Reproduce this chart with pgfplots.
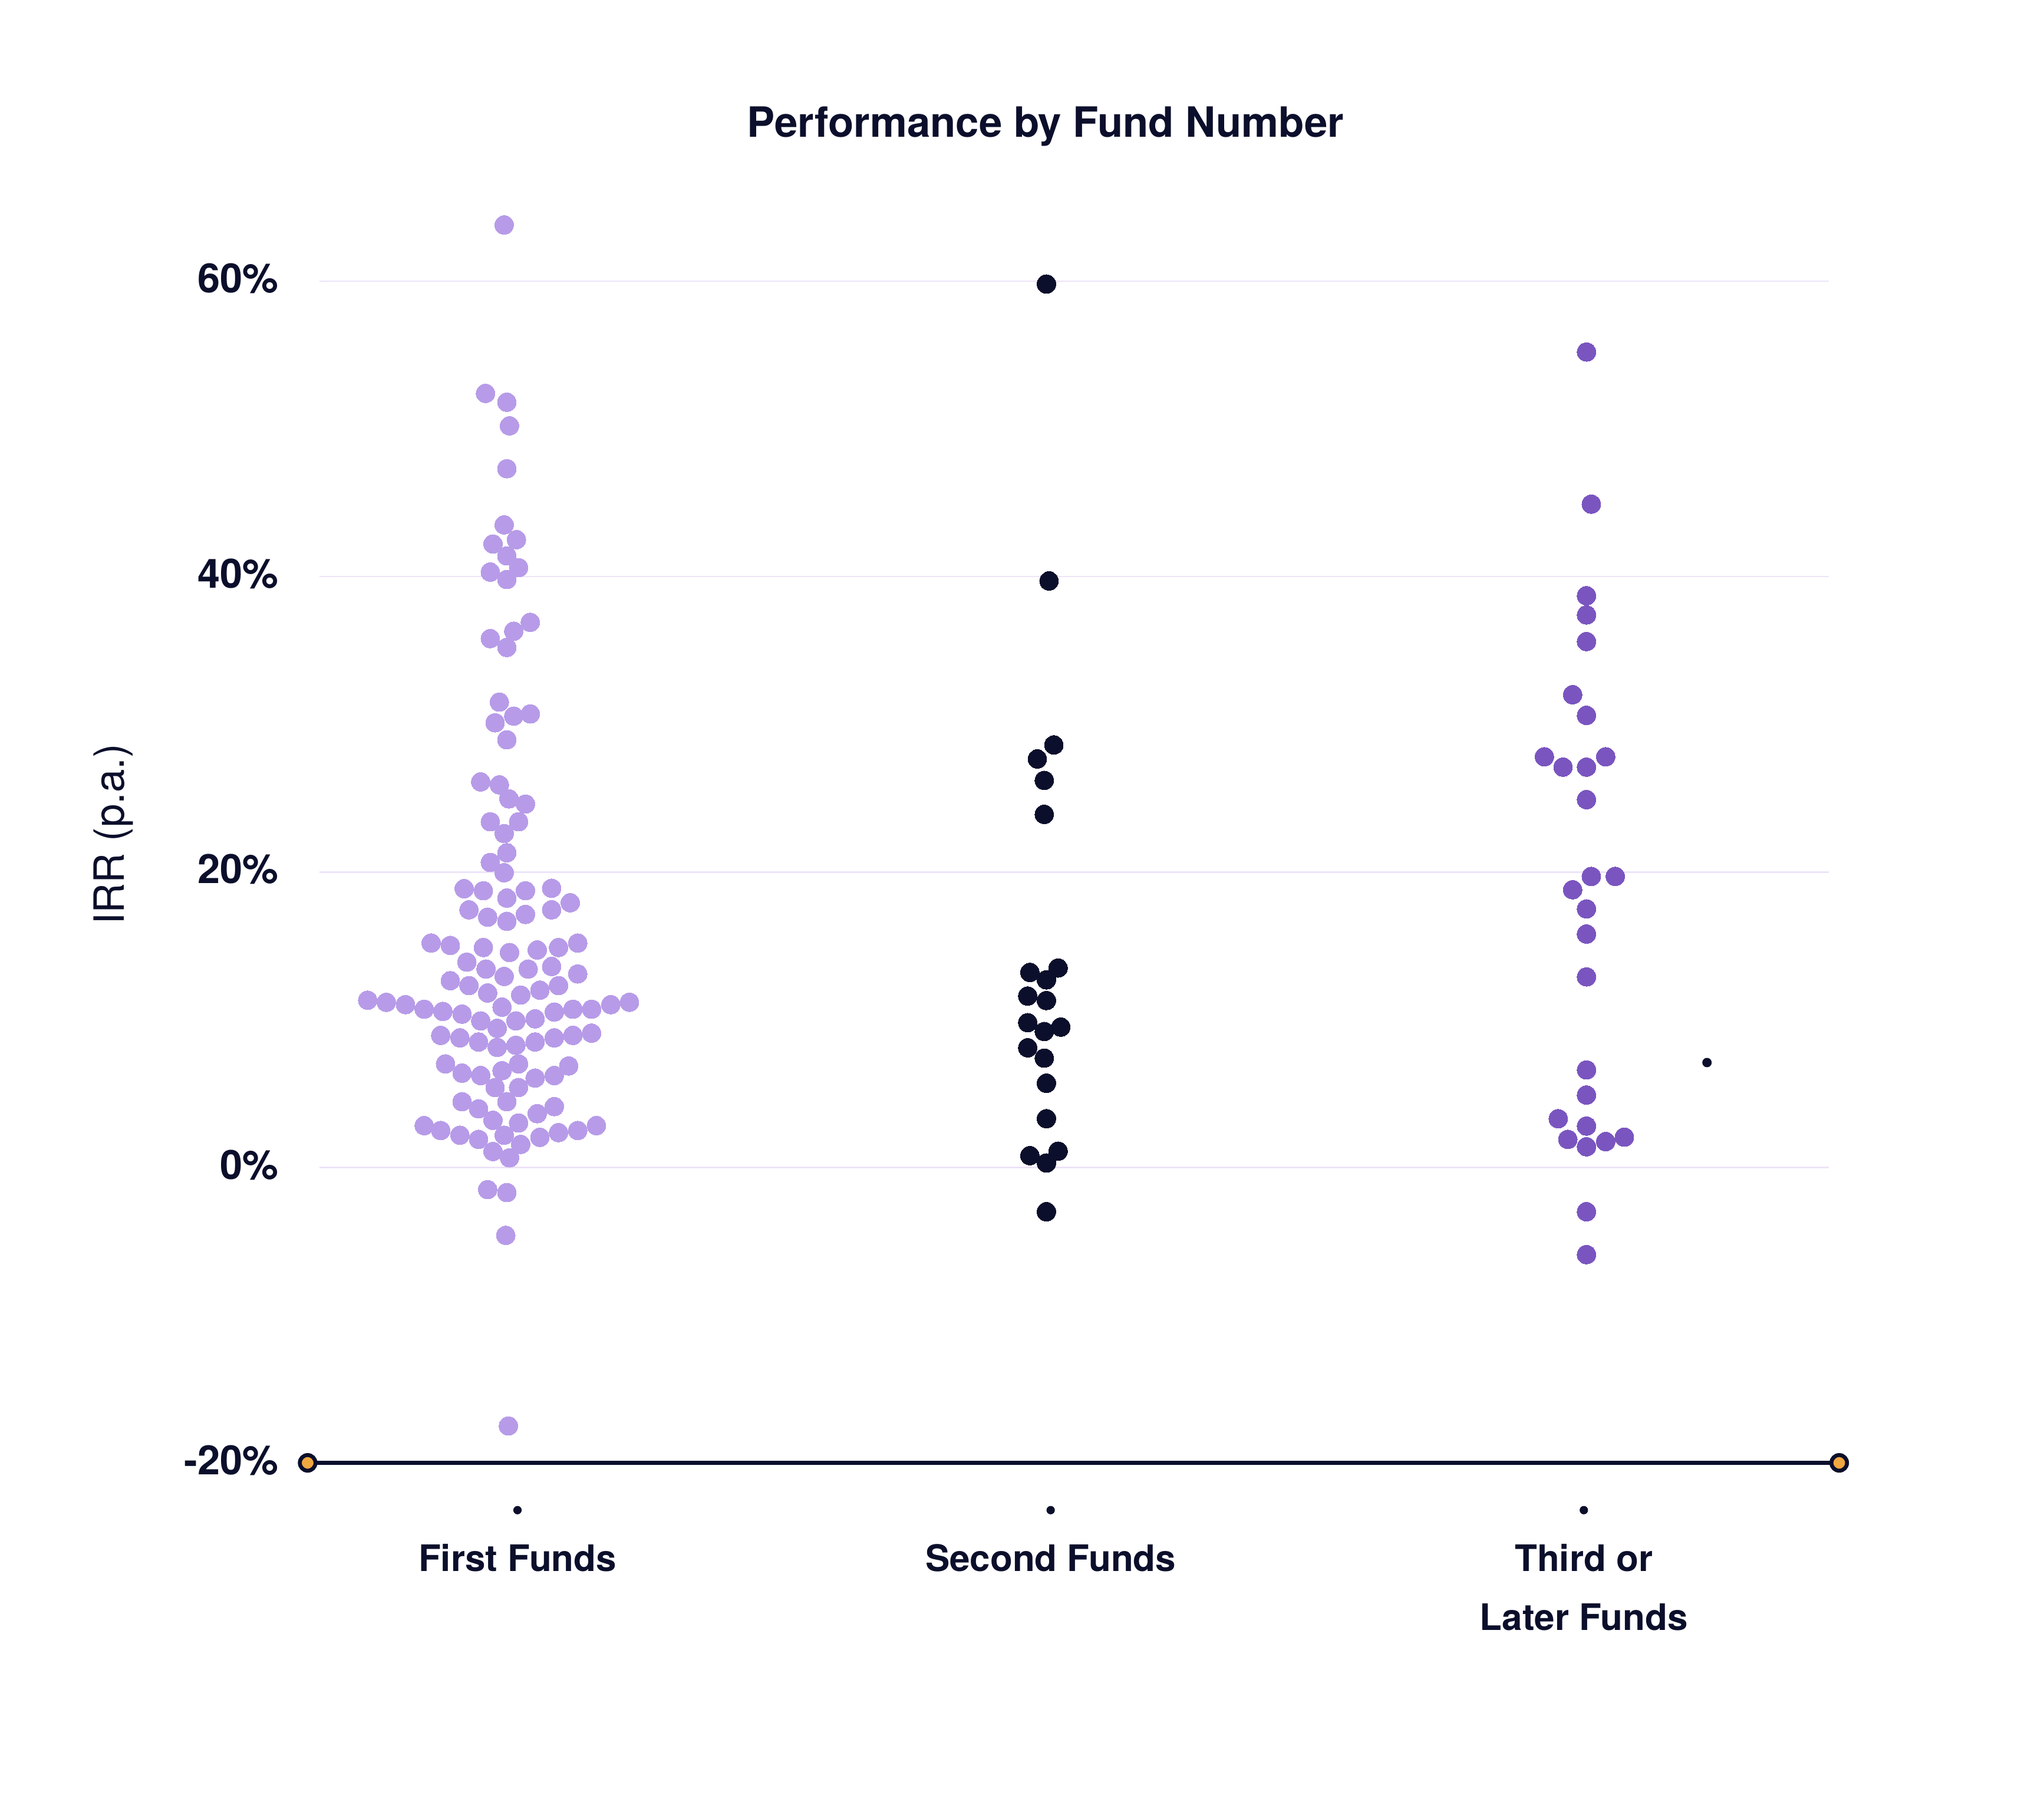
\documentclass[border=0pt]{standalone}
\usepackage{fontspec}
\setmainfont{TeX Gyre Heros}
\usepackage{pgfplots}
\pgfplotsset{compat=1.18}
\definecolor{navy}{HTML}{0B0F2B}
\definecolor{lav}{HTML}{B79BE8}
\definecolor{purp}{HTML}{7A55C0}
\definecolor{gridc}{HTML}{EEE4F8}
\definecolor{orng}{HTML}{F0A840}
\begin{document}
\begin{tikzpicture}
\path[use as bounding box] (-122.5pt,-136pt) rectangle (661.5pt,561pt);
\begin{axis}[
 at={(0,0)}, anchor=south west, scale only axis,
 width=579pt, height=487.19pt,
 xmin=-0.3716, xmax=2.4597, ymin=-20, ymax=66,
 axis line style={draw=none},
 clip=false,
 xtick={0,1,2}, xticklabels={First Funds, Second Funds, {Third or\\Later Funds}},
 xticklabel style={font=\fontsize{14}{22.5}\selectfont\bfseries, align=center, anchor=north, inner sep=0pt, yshift=-31pt, text=navy},
 ytick={-20,0,20,40,60}, yticklabels={-20\%,0\%,20\%,40\%,60\%},
 yticklabel style={font=\fontsize{15.5}{18}\selectfont\bfseries, anchor=east, inner sep=0pt, xshift=-15.5pt, yshift=1pt, text=navy},
 major tick length=0pt, tick style={draw=none},
 ymajorgrids, grid style={gridc, line width=0.6pt},
]
% First Funds
\addplot[only marks, mark=*, mark size=3.6pt, mark options={draw=lav, fill=lav, line width=0pt}] coordinates {
(-0.025,63.8) (-0.060,52.4) (-0.020,51.8) (-0.015,50.2) (-0.020,47.3) (-0.025,43.5)
(-0.046,42.2) (-0.002,42.5) (-0.020,41.4) (-0.051,40.3) (0.002,40.6) (-0.020,39.8)
(-0.051,35.8) (-0.007,36.3) (0.024,36.9) (-0.020,35.2)
(-0.034,31.5) (-0.007,30.55) (0.024,30.7) (-0.042,30.1) (-0.020,28.95)
(-0.069,26.1) (-0.034,25.9) (-0.016,24.95) (0.015,24.6) (-0.051,23.4) (0.002,23.4)
(-0.025,22.6) (-0.020,21.3) (-0.051,20.65) (-0.025,19.95)
(-0.100,18.87) (-0.064,18.73) (0.015,18.73) (0.064,18.90) (-0.020,18.23) (0.099,17.92)
(-0.091,17.44) (0.064,17.44) (-0.056,16.94) (0.015,17.13) (-0.020,16.66)
(-0.162,15.19) (-0.126,15.03) (-0.064,14.89) (-0.015,14.55) (0.037,14.72) (0.077,14.89) (0.113,15.19)
(-0.095,13.90) (-0.059,13.43) (-0.025,12.93) (0.020,13.43) (0.064,13.60) (0.113,13.10)
(-0.126,12.64) (-0.091,12.31) (-0.056,11.81) (0.006,11.67) (0.042,12.00) (0.077,12.31)
(-0.281,11.32) (-0.246,11.18) (-0.210,11.02) (-0.175,10.71) (-0.140,10.56) (-0.104,10.38)
(-0.029,10.85) (0.069,10.52) (0.104,10.71) (0.139,10.71) (0.175,11.02) (0.210,11.18)
(-0.069,9.92) (-0.003,9.92) (0.033,10.06) (-0.038,9.42)
(-0.144,8.94) (-0.108,8.77) (-0.073,8.49) (-0.038,8.13) (-0.003,8.27) (0.033,8.49) (0.069,8.77) (0.104,8.94) (0.139,9.09)
(-0.135,7.01) (-0.104,6.38) (-0.069,6.22) (-0.029,6.55) (0.002,7.01) (0.033,6.05) (0.069,6.22) (0.096,6.87)
(-0.042,5.41) (0.002,5.41)
(-0.104,4.45) (-0.073,3.97) (-0.020,4.45) (0.037,3.64) (0.069,4.12) (-0.046,3.19) (0.002,3.01)
(-0.175,2.83) (-0.144,2.50) (-0.108,2.18) (-0.073,1.90) (-0.025,2.18) (0.006,1.56) (0.042,2.04)
(0.077,2.36) (0.113,2.50) (0.148,2.83) (-0.046,1.08) (-0.015,0.65)
(-0.056,-1.5) (-0.020,-1.7) (-0.022,-4.6) (-0.017,-17.5)
};
% Second Funds
\addplot[only marks, mark=*, mark size=3.6pt, mark options={draw=navy, fill=navy, line width=0pt}] coordinates {
(0.992,59.8) (0.997,39.7) (1.006,28.6) (0.975,27.65) (0.988,26.2) (0.988,23.9)
(0.961,13.2) (1.014,13.5) (0.992,12.7) (0.957,11.6) (0.992,11.3)
(0.957,9.8) (0.988,9.2) (1.019,9.5) (0.957,8.1) (0.988,7.4) (0.992,5.7) (0.992,3.3)
(0.961,0.8) (1.014,1.1) (0.992,0.3) (0.992,-3.0)
};
% Third or Later Funds
\addplot[only marks, mark=*, mark size=3.6pt, mark options={draw=purp, fill=purp, line width=0pt}] coordinates {
(2.005,55.2) (2.014,44.9) (2.005,38.7) (2.005,37.4) (2.005,35.6) (1.979,32.0) (2.005,30.6)
(1.926,27.8) (1.961,27.1) (2.005,27.1) (2.041,27.8) (2.005,24.9)
(2.014,19.7) (2.059,19.7) (1.979,18.8) (2.005,17.5) (2.005,15.8) (2.005,12.9)
(2.005,6.6) (2.005,4.9) (1.952,3.3) (2.005,2.8) (1.970,1.9) (2.005,1.4) (2.041,1.75) (2.076,2.05)
(2.005,-3.0) (2.005,-5.9)
};
% stray small dot
\addplot[only marks, mark=*, mark size=1.6pt, mark options={draw=navy, fill=navy}] coordinates {(2.231,7.1)};
% category tick dots
\addplot[only marks, mark=*, mark size=1.4pt, mark options={draw=navy, fill=navy}] coordinates {(0,-23.2) (1,-23.2) (2,-23.2)};
% bottom axis line
\draw[navy, line width=1.6pt] (axis cs:-0.3936,-20) -- (axis cs:2.479,-20);
\addplot[only marks, mark=*, mark size=3.0pt, mark options={fill=orng, draw=navy, line width=1.5pt}] coordinates {(-0.3936,-20) (2.479,-20)};
\end{axis}
\node[font=\fontsize{16}{19}\selectfont\bfseries, text=navy] at (278.5pt,512.5pt) {Performance by Fund Number};
\node[rotate=90, font=\fontsize{16}{19}\selectfont, text=navy] at (-79pt,241pt) {IRR (p.a.)};
\end{tikzpicture}
\end{document}
